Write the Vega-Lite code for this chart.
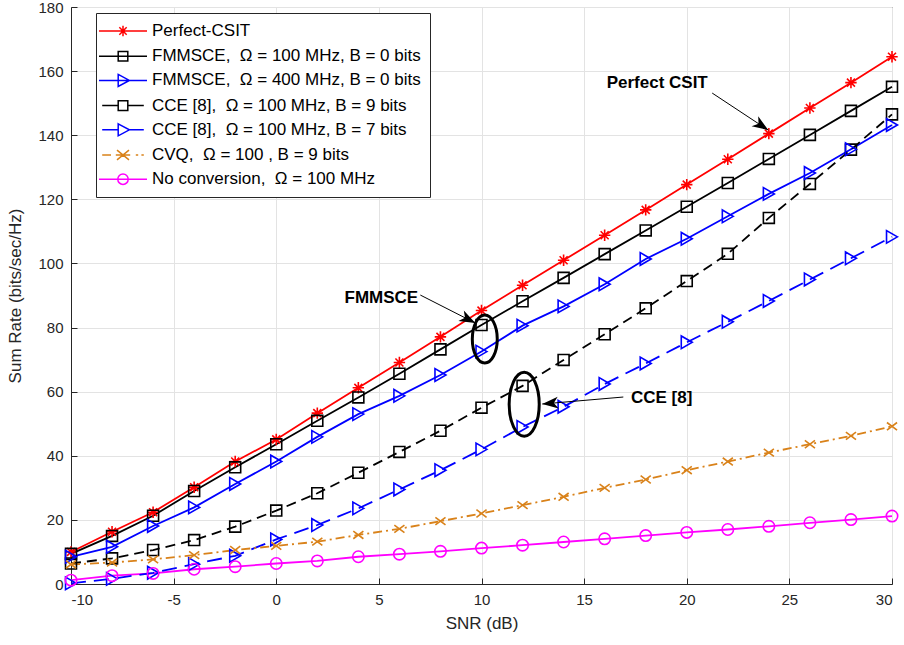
{
  "$schema": "https://vega.github.io/schema/vega-lite/v6.json",
  "width": 821,
  "height": 577,
  "autosize": {"type": "none"},
  "padding": {"left": 71, "top": 7, "right": 12, "bottom": 61},
  "background": "white",
  "config": {
    "view": {"stroke": "#262626", "strokeWidth": 1},
    "axis": {
      "domainColor": "#262626",
      "gridColor": "#E3E3E3",
      "gridWidth": 1,
      "tickColor": "#262626",
      "tickSize": -6,
      "labelFont": "Liberation Sans",
      "labelFontSize": 15,
      "labelColor": "#262626",
      "titleFont": "Liberation Sans",
      "titleFontSize": 17,
      "titleFontWeight": "normal",
      "titleColor": "#262626"
    },
    "text": {"font": "Liberation Sans"}
  },
  "datasets": {
    "curves": [
      {"snr": -10, "p": 10, "f100": 9.4, "f400": 8.5, "c9": 6.4, "c7": 0.2, "cvq": 6.1, "nc": 1.2},
      {"snr": -8, "p": 16.3, "f100": 15, "f400": 11.6, "c9": 8, "c7": 1.6, "cvq": 6.7, "nc": 2.6},
      {"snr": -6, "p": 22.4, "f100": 21.3, "f400": 18.1, "c9": 10.6, "c7": 3.5, "cvq": 7.7, "nc": 3.3},
      {"snr": -4, "p": 30.2, "f100": 29, "f400": 23.9, "c9": 13.7, "c7": 6.2, "cvq": 9, "nc": 4.6},
      {"snr": -2, "p": 38.2, "f100": 36.4, "f400": 31.2, "c9": 17.9, "c7": 8.8, "cvq": 10.6, "nc": 5.4},
      {"snr": 0, "p": 45.1, "f100": 43.6, "f400": 38.2, "c9": 22.9, "c7": 13.9, "cvq": 11.9, "nc": 6.4},
      {"snr": 2, "p": 53.3, "f100": 50.9, "f400": 45.9, "c9": 28.3, "c7": 18.4, "cvq": 13.2, "nc": 7.2},
      {"snr": 4, "p": 61.2, "f100": 58.2, "f400": 53, "c9": 34.7, "c7": 23.6, "cvq": 15.3, "nc": 8.5},
      {"snr": 6, "p": 69.1, "f100": 65.6, "f400": 58.7, "c9": 41.2, "c7": 29.5, "cvq": 17.2, "nc": 9.3},
      {"snr": 8, "p": 77.1, "f100": 73.2, "f400": 65.2, "c9": 47.8, "c7": 35.5, "cvq": 19.6, "nc": 10.2},
      {"snr": 10, "p": 85.3, "f100": 80.8, "f400": 72.5, "c9": 55, "c7": 42, "cvq": 22, "nc": 11.2},
      {"snr": 12, "p": 93.2, "f100": 88.2, "f400": 80.6, "c9": 61.8, "c7": 49, "cvq": 24.6, "nc": 12.1},
      {"snr": 14, "p": 101, "f100": 95.5, "f400": 86.6, "c9": 69.9, "c7": 55.3, "cvq": 27.2, "nc": 13.1},
      {"snr": 16, "p": 108.8, "f100": 102.9, "f400": 93.5, "c9": 77.9, "c7": 62.4, "cvq": 30, "nc": 14.1},
      {"snr": 18, "p": 116.7, "f100": 110.3, "f400": 101.4, "c9": 86, "c7": 68.8, "cvq": 32.6, "nc": 15.1},
      {"snr": 20, "p": 124.6, "f100": 117.7, "f400": 107.7, "c9": 94.5, "c7": 75.4, "cvq": 35.5, "nc": 16.1},
      {"snr": 22, "p": 132.5, "f100": 125.1, "f400": 114.7, "c9": 103, "c7": 81.8, "cvq": 38.2, "nc": 17},
      {"snr": 24, "p": 140.5, "f100": 132.6, "f400": 121.7, "c9": 114.2, "c7": 88.3, "cvq": 41, "nc": 18},
      {"snr": 26, "p": 148.5, "f100": 140.1, "f400": 128.2, "c9": 124.8, "c7": 95, "cvq": 43.6, "nc": 19.1},
      {"snr": 28, "p": 156.4, "f100": 147.6, "f400": 135.6, "c9": 135.5, "c7": 101.6, "cvq": 46.2, "nc": 20.1},
      {"snr": 30, "p": 164.5, "f100": 155.1, "f400": 143.2, "c9": 146.5, "c7": 108.3, "cvq": 49.2, "nc": 21.2}
    ],
    "labels": [
      {"x": 18.56, "y": 156.3, "label": "Perfect CSIT"},
      {"x": 5.12, "y": 89.2, "label": "FMMSCE"},
      {"x": 18.78, "y": 58.0, "label": "CCE [8]"}
    ],
    "arrows": [
      {"name": "csit", "x": 21.24, "y": 153.15, "x2": 23.97, "y2": 141.6},
      {"name": "fm", "x": 7.02, "y": 90.14, "x2": 9.70, "y2": 81.41},
      {"name": "cce", "x": 16.91, "y": 58.33, "x2": 12.96, "y2": 56.15}
    ],
    "ellipses": [
      {"name": "fm", "x": 10.16, "y": 76.4},
      {"name": "cce", "x": 12.08, "y": 56.1}
    ]
  },
  "layer": [
    {
      "data": {"name": "curves"},
      "transform": [{"fold": ["p", "f100", "f400", "c9", "c7", "cvq", "nc"], "as": ["s", "rate"]}, {"filter": "datum.snr > 1000"}],
      "mark": {"type": "point", "filled": false, "strokeWidth": 1.5, "size": 256, "opacity": 1},
      "encoding": {
        "x": {"field": "snr", "type": "quantitative", "scale": {"domain": [-10, 30], "nice": false, "zero": false},
              "axis": {"title": "SNR (dB)", "values": [-10, -5, 0, 5, 10, 15, 20, 25, 30], "labelExpr": "'' + datum.value", "labelPadding": 14, "titlePadding": 8}},
        "y": {"field": "rate", "type": "quantitative", "scale": {"domain": [0, 180], "nice": false},
              "axis": {"title": "Sum Rate (bits/sec/Hz)", "values": [0, 20, 40, 60, 80, 100, 120, 140, 160, 180], "labelPadding": 14, "titlePadding": 13}},
        "color": {"field": "s", "type": "nominal",
                  "scale": {"domain": ["p", "f100", "f400", "c9", "c7", "cvq", "nc"],
                            "range": ["#FF0000", "#000000", "#0000FF", "#000000", "#0000FF", "#D9821A", "#FF00FF"]},
                  "legend": {"orient": "none", "legendX": 25, "legendY": 6, "title": null,
                             "labelFont": "Liberation Sans", "labelFontSize": 17, "labelColor": "#000000",
                             "symbolSize": 256, "symbolStrokeWidth": 1.5, "symbolOffset": 9, "labelOffset": 20,
                             "rowPadding": 7.2, "padding": 9, "strokeColor": "#262626", "fillColor": "#FFFFFF", "cornerRadius": 0,
                             "labelLimit": 400,
                             "labelExpr": "datum.label == 'p' ? 'Perfect-CSIT' : datum.label == 'f100' ? '\u00a0FMMSCE,\u00a0 Ω = 100 MHz, B = 0 bits' : datum.label == 'f400' ? '\u00a0FMMSCE,\u00a0 Ω = 400 MHz, B = 0 bits' : datum.label == 'c9' ? 'CCE [8],\u00a0 Ω = 100 MHz, B = 9 bits' : datum.label == 'c7' ? 'CCE [8],\u00a0 Ω = 100 MHz, B = 7 bits' : datum.label == 'cvq' ? 'CVQ,\u00a0 Ω = 100 , B = 9 bits' : 'No conversion,\u00a0 Ω = 100 MHz'"}},
        "shape": {"field": "s", "type": "nominal",
                  "scale": {"domain": ["p", "f100", "f400", "c9", "c7", "cvq", "nc"],
                            "range": [
                              "M-3,0L3,0M-0.65,0L0.65,0M0,-0.65L0,0.65M-0.46,-0.46L0.46,0.46M-0.46,0.46L0.46,-0.46",
                              "M-3,0L3,0M-0.6,-0.6L0.6,-0.6L0.6,0.6L-0.6,0.6Z",
                              "M-3,0L3,0M-0.6,-0.75L0.8,0L-0.6,0.75Z",
                              "M-2.6,0L-0.6,0M0.6,0L2.6,0M-0.6,-0.6L0.6,-0.6L0.6,0.6L-0.6,0.6Z",
                              "M-2.6,0L-0.6,0M0.8,0L2.6,0M-0.6,-0.75L0.8,0L-0.6,0.75Z",
                              "M-2.6,0L-1.5,0M-0.9,0L0.9,0M1.6,0L1.9,0M2.3,0L2.6,0M-0.75,-0.6L0.75,0.6M-0.75,0.6L0.75,-0.6",
                              "M-3,0L3,0M0.65,0A0.65,0.65 0 1,1 -0.65,0A0.65,0.65 0 1,1 0.65,0Z"
                            ]},
                  "legend": {"orient": "none", "legendX": 25, "legendY": 6, "title": null,
                             "labelFont": "Liberation Sans", "labelFontSize": 17, "labelColor": "#000000",
                             "symbolSize": 256, "symbolStrokeWidth": 1.5, "symbolOffset": 9, "labelOffset": 20,
                             "rowPadding": 7.2, "padding": 9, "strokeColor": "#262626", "fillColor": "#FFFFFF", "cornerRadius": 0,
                             "labelLimit": 400,
                             "labelExpr": "datum.label == 'p' ? 'Perfect-CSIT' : datum.label == 'f100' ? '\u00a0FMMSCE,\u00a0 Ω = 100 MHz, B = 0 bits' : datum.label == 'f400' ? '\u00a0FMMSCE,\u00a0 Ω = 400 MHz, B = 0 bits' : datum.label == 'c9' ? 'CCE [8],\u00a0 Ω = 100 MHz, B = 9 bits' : datum.label == 'c7' ? 'CCE [8],\u00a0 Ω = 100 MHz, B = 7 bits' : datum.label == 'cvq' ? 'CVQ,\u00a0 Ω = 100 , B = 9 bits' : 'No conversion,\u00a0 Ω = 100 MHz'"}}
      }
    },
    {
      "data": {"name": "curves"},
      "transform": [{"fold": ["p", "f100", "f400", "nc"], "as": ["s", "rate"]}],
      "mark": {"type": "line", "strokeWidth": 1.8, "clip": false},
      "encoding": {
        "x": {"field": "snr", "type": "quantitative"},
        "y": {"field": "rate", "type": "quantitative"},
        "color": {"field": "s", "type": "nominal"}
      }
    },
    {
      "data": {"name": "curves"},
      "transform": [{"fold": ["c9"], "as": ["s", "rate"]}],
      "mark": {"type": "line", "strokeWidth": 1.8, "strokeDash": [10, 6], "clip": false},
      "encoding": {
        "x": {"field": "snr", "type": "quantitative"},
        "y": {"field": "rate", "type": "quantitative"},
        "color": {"field": "s", "type": "nominal"}
      }
    },
    {
      "data": {"name": "curves"},
      "transform": [{"fold": ["c7"], "as": ["s", "rate"]}],
      "mark": {"type": "line", "strokeWidth": 1.8, "strokeDash": [15, 8], "clip": false},
      "encoding": {
        "x": {"field": "snr", "type": "quantitative"},
        "y": {"field": "rate", "type": "quantitative"},
        "color": {"field": "s", "type": "nominal"}
      }
    },
    {
      "data": {"name": "curves"},
      "transform": [{"fold": ["cvq"], "as": ["s", "rate"]}],
      "mark": {"type": "line", "strokeWidth": 1.8, "strokeDash": [9, 4, 2, 4], "clip": false},
      "encoding": {
        "x": {"field": "snr", "type": "quantitative"},
        "y": {"field": "rate", "type": "quantitative"},
        "color": {"field": "s", "type": "nominal"}
      }
    },
    {
      "data": {"name": "curves"},
      "transform": [{"fold": ["p"], "as": ["s", "rate"]}],
      "mark": {"type": "point", "filled": false, "strokeWidth": 1.6, "size": 130, "opacity": 1, "clip": false,
               "shape": "M-1,0L1,0M0,-1L0,1M-0.7,-0.7L0.7,0.7M-0.7,0.7L0.7,-0.7"},
      "encoding": {
        "x": {"field": "snr", "type": "quantitative"},
        "y": {"field": "rate", "type": "quantitative"},
        "color": {"field": "s", "type": "nominal"}
      }
    },
    {
      "data": {"name": "curves"},
      "transform": [{"fold": ["f100", "c9"], "as": ["s", "rate"]}],
      "mark": {"type": "point", "filled": false, "strokeWidth": 1.6, "size": 120, "opacity": 1, "shape": "square", "clip": false},
      "encoding": {
        "x": {"field": "snr", "type": "quantitative"},
        "y": {"field": "rate", "type": "quantitative"},
        "color": {"field": "s", "type": "nominal"}
      }
    },
    {
      "data": {"name": "curves"},
      "transform": [{"fold": ["f400", "c7"], "as": ["s", "rate"]}],
      "mark": {"type": "point", "filled": false, "strokeWidth": 1.6, "size": 160, "opacity": 1, "shape": "triangle-right", "clip": false},
      "encoding": {
        "x": {"field": "snr", "type": "quantitative"},
        "y": {"field": "rate", "type": "quantitative"},
        "color": {"field": "s", "type": "nominal"}
      }
    },
    {
      "data": {"name": "curves"},
      "transform": [{"fold": ["cvq"], "as": ["s", "rate"]}],
      "mark": {"type": "point", "filled": false, "strokeWidth": 1.6, "size": 160, "opacity": 1, "clip": false,
               "shape": "M-0.8,-0.6L0.8,0.6M-0.8,0.6L0.8,-0.6"},
      "encoding": {
        "x": {"field": "snr", "type": "quantitative"},
        "y": {"field": "rate", "type": "quantitative"},
        "color": {"field": "s", "type": "nominal"}
      }
    },
    {
      "data": {"name": "curves"},
      "transform": [{"fold": ["nc"], "as": ["s", "rate"]}],
      "mark": {"type": "point", "filled": false, "strokeWidth": 1.6, "size": 130, "opacity": 1, "shape": "circle", "clip": false},
      "encoding": {
        "x": {"field": "snr", "type": "quantitative"},
        "y": {"field": "rate", "type": "quantitative"},
        "color": {"field": "s", "type": "nominal"}
      }
    },
    {
      "data": {"name": "labels"},
      "mark": {"type": "text", "fontWeight": "bold", "fontSize": 17, "font": "Liberation Sans", "color": "#000000", "align": "center", "baseline": "middle"},
      "encoding": {
        "x": {"field": "x", "type": "quantitative"},
        "y": {"field": "y", "type": "quantitative"},
        "text": {"field": "label"}
      }
    },
    {
      "data": {"name": "arrows"},
      "mark": {"type": "rule", "color": "#000000", "strokeWidth": 1},
      "encoding": {
        "x": {"field": "x", "type": "quantitative"},
        "y": {"field": "y", "type": "quantitative"},
        "x2": {"field": "x2"},
        "y2": {"field": "y2"}
      }
    },
    {
      "data": {"name": "arrows"},
      "transform": [{"filter": "datum.name == 'csit'"}],
      "mark": {"type": "point", "filled": true, "color": "#000000", "opacity": 1, "size": 256, "angle": 33.5,
               "shape": "M0,0L-2,-0.75L-1.45,0L-2,0.75Z"},
      "encoding": {
        "x": {"field": "x2", "type": "quantitative"},
        "y": {"field": "y2", "type": "quantitative"}
      }
    },
    {
      "data": {"name": "arrows"},
      "transform": [{"filter": "datum.name == 'fm'"}],
      "mark": {"type": "point", "filled": true, "color": "#000000", "opacity": 1, "size": 256, "angle": 27,
               "shape": "M0,0L-2,-0.75L-1.45,0L-2,0.75Z"},
      "encoding": {
        "x": {"field": "x2", "type": "quantitative"},
        "y": {"field": "y2", "type": "quantitative"}
      }
    },
    {
      "data": {"name": "arrows"},
      "transform": [{"filter": "datum.name == 'cce'"}],
      "mark": {"type": "point", "filled": true, "color": "#000000", "opacity": 1, "size": 256, "angle": 175,
               "shape": "M0,0L-2,-0.75L-1.45,0L-2,0.75Z"},
      "encoding": {
        "x": {"field": "x2", "type": "quantitative"},
        "y": {"field": "y2", "type": "quantitative"}
      }
    },
    {
      "data": {"name": "ellipses"},
      "transform": [{"filter": "datum.name == 'fm'"}],
      "mark": {"type": "point", "filled": false, "color": "#000000", "opacity": 1, "strokeWidth": 3, "size": 2304,
               "shape": "M0.52,0A0.52,1 0 1,1 -0.52,0A0.52,1 0 1,1 0.52,0Z"},
      "encoding": {
        "x": {"field": "x", "type": "quantitative"},
        "y": {"field": "y", "type": "quantitative"}
      }
    },
    {
      "data": {"name": "ellipses"},
      "transform": [{"filter": "datum.name == 'cce'"}],
      "mark": {"type": "point", "filled": false, "color": "#000000", "opacity": 1, "strokeWidth": 3, "size": 4096,
               "shape": "M0.47,0A0.47,1 0 1,1 -0.47,0A0.47,1 0 1,1 0.47,0Z"},
      "encoding": {
        "x": {"field": "x", "type": "quantitative"},
        "y": {"field": "y", "type": "quantitative"}
      }
    }
  ]
}
